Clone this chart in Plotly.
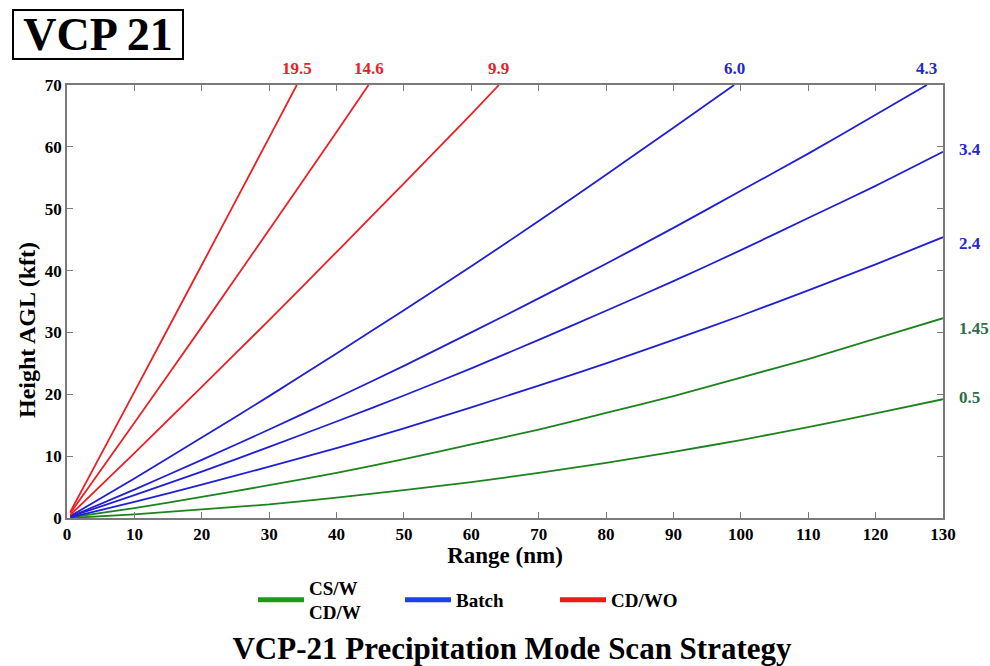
import plotly.graph_objects as go

# ---------------- data ----------------
# Beam height (kft AGL) vs range (nm) for each VCP-21 elevation angle
range_low = [0.5, 10, 20, 30, 40, 50, 60, 70, 80, 90, 100, 110, 120, 130]
h_0_5 = [0.0, 0.6, 1.4, 2.2, 3.3, 4.5, 5.8, 7.3, 8.9, 10.7, 12.6, 14.7, 16.9, 19.2]
h_1_45 = [0.1, 1.6, 3.4, 5.3, 7.3, 9.5, 11.9, 14.3, 17.0, 19.7, 22.7, 25.7, 29.0, 32.3]
h_2_4 = [0.1, 2.6, 5.4, 8.3, 11.3, 14.5, 17.9, 21.4, 25.0, 28.8, 32.7, 36.8, 41.0, 45.4]
h_3_4 = [0.2, 3.7, 7.5, 11.5, 15.6, 19.8, 24.2, 28.8, 33.5, 38.3, 43.3, 48.5, 53.7, 59.2]

range_4_3 = [0.5, 10, 20, 30, 40, 50, 60, 70, 80, 90, 100, 110, 120, 127.6]
h_4_3 = [0.2, 4.6, 9.4, 14.3, 19.4, 24.6, 30.0, 35.5, 41.1, 46.9, 52.9, 58.9, 65.2, 70.0]

range_6_0 = [0.5, 10, 20, 30, 40, 50, 60, 70, 80, 90, 99.0]
h_6_0 = [0.3, 6.4, 13.0, 19.7, 26.6, 33.6, 40.7, 48.0, 55.5, 63.1, 70.0]

range_9_9 = [0.5, 10, 20, 30, 40, 50, 60, 64.1]
h_9_9 = [0.5, 10.5, 21.2, 32.0, 43.0, 54.1, 65.3, 70.0]

range_14_6 = [0.5, 10, 20, 30, 40, 44.75]
h_14_6 = [0.8, 15.4, 30.9, 46.6, 62.4, 70.0]

range_19_5 = [0.5, 10, 20, 30, 34.1]
h_19_5 = [1.0, 20.4, 40.9, 61.5, 70.0]

elev_labels = ["0.5", "1.45", "2.4", "3.4", "4.3", "6.0", "9.9", "14.6", "19.5"]
elev_ranges = [range_low, range_low, range_low, range_low, range_4_3, range_6_0,
               range_9_9, range_14_6, range_19_5]
elev_heights = [h_0_5, h_1_45, h_2_4, h_3_4, h_4_3, h_6_0, h_9_9, h_14_6, h_19_5]
elev_group = ["green", "green", "blue", "blue", "blue", "blue", "red", "red", "red"]

legend_names = ["CS/W<br>CD/W", "Batch", "CD/WO"]
legend_groups = ["green", "blue", "red"]

x_ticks = list(range(0, 131, 10))
y_ticks = list(range(0, 71, 10))

# ---------------- styles ----------------
W, H = 990, 666
SERIF = "Liberation Serif, Times New Roman, serif"
line_color = {"green": "#1e821e", "blue": "#2020d2", "red": "#ec1f24"}
label_color = {"green": "#2c6e4c", "blue": "#2626cc", "red": "#e8202a"}
legend_color = {"green": "#1c9a1c", "blue": "#1e40e6", "red": "#ee1a1a"}
right_label_shift = {"0.5": 2, "1.45": -10, "2.4": -6, "3.4": 2}
legend_left_px = [253, 400, 555]

fig = go.Figure()

for lab, xs, ys, g in zip(elev_labels, elev_ranges, elev_heights, elev_group):
    fig.add_trace(go.Scatter(
        x=xs, y=ys, mode="lines", name=lab, showlegend=False,
        line=dict(color=line_color[g], width=1.8, shape="spline", smoothing=0.6),
        hoverinfo="skip"))
    if ys[-1] >= 70:
        fig.add_annotation(x=xs[-1], y=70, xref="x", yref="y", text=lab,
                           showarrow=False, yshift=17, xanchor="center", yanchor="middle",
                           font=dict(family=SERIF, size=17, color=label_color[g], weight="bold"))
    else:
        fig.add_annotation(x=xs[-1], y=ys[-1], xref="x", yref="y", text=lab,
                           showarrow=False, xshift=14, yshift=right_label_shift.get(lab, 0),
                           xanchor="left", yanchor="middle",
                           font=dict(family=SERIF, size=17, color=label_color[g], weight="bold"))

legend_keys = ["legend", "legend2", "legend3"]
for name, g, key in zip(legend_names, legend_groups, legend_keys):
    fig.add_trace(go.Scatter(
        x=[None], y=[None], mode="lines", name=name, showlegend=True, legend=key,
        line=dict(color=legend_color[g], width=5)))

axis_common = dict(
    showline=True, linecolor="#7a7a7a", linewidth=1.5, mirror="ticks",
    ticks="inside", ticklen=6, tickwidth=1, tickcolor="#7a7a7a",
    showgrid=False, zeroline=False,
    tickfont=dict(family=SERIF, size=17, color="black", weight="bold"),
)

fig.update_xaxes(range=[0, 130], tickvals=x_ticks, ticktext=[str(v) for v in x_ticks],
                 title=dict(text="Range (nm)", standoff=11,
                            font=dict(family=SERIF, size=23, color="black", weight="bold")),
                 **axis_common)
fig.update_yaxes(range=[0, 70], tickvals=y_ticks, ticktext=[str(v) for v in y_ticks],
                 **axis_common)

plot_l, plot_t, plot_w, plot_h = 67, 85, 876, 433

# y-axis title (placed as in the reference, below the plot centre)
fig.add_annotation(x=(27 - plot_l) / plot_w, y=1 - (330 - plot_t) / plot_h,
                   xref="paper", yref="paper", text="Height AGL (kft)", textangle=-90,
                   showarrow=False, xanchor="center", yanchor="middle",
                   font=dict(family=SERIF, size=24, color="black", weight="bold"))

# boxed "VCP 21" label
fig.add_annotation(x=(12 - plot_l) / plot_w, y=1 + (plot_t - 9) / plot_h,
                   xref="paper", yref="paper",
                   text="VCP 21", showarrow=False, xanchor="left", yanchor="top",
                   width=164, height=43, align="center", valign="middle",
                   font=dict(family=SERIF, size=46, color="black", weight="bold"),
                   bordercolor="black", borderwidth=2, borderpad=2, bgcolor="white")

legend_style = dict(orientation="h", xref="container", yref="container",
                    xanchor="left", y=1 - 600 / H, yanchor="middle",
                    font=dict(family=SERIF, size=19, color="black", weight="bold"),
                    bgcolor="rgba(0,0,0,0)", borderwidth=0, itemsizing="trace",
                    itemwidth=46)

fig.update_layout(
    width=W, height=H,
    paper_bgcolor="white", plot_bgcolor="white",
    margin=dict(l=plot_l, r=W - plot_l - plot_w, t=plot_t, b=H - plot_t - plot_h,
                autoexpand=False),
    title=dict(text="VCP-21 Precipitation Mode Scan Strategy",
               x=512 / W, xanchor="center", xref="container",
               y=1 - 648 / H, yanchor="middle", yref="container",
               font=dict(family=SERIF, size=31, color="black", weight="bold")),
    legend=dict(x=legend_left_px[0] / W, **legend_style),
    legend2=dict(x=legend_left_px[1] / W, **legend_style),
    legend3=dict(x=legend_left_px[2] / W, **legend_style),
)

fig.write_html("out.html", config={"displayModeBar": False},
               post_script="document.body.style.margin='0px';")
